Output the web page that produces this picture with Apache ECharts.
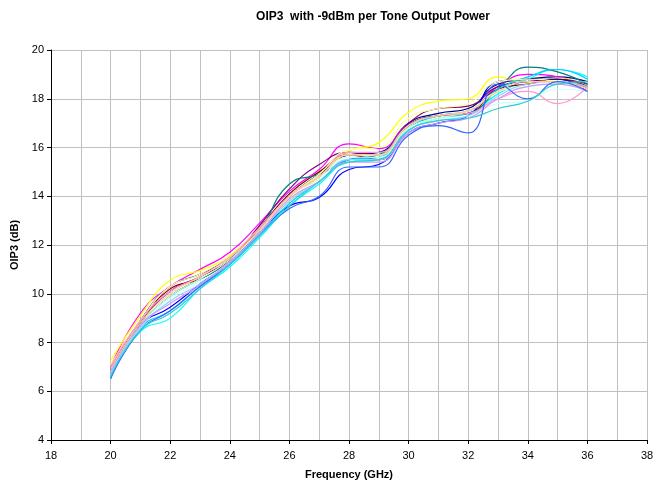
<!DOCTYPE html>
<html>
<head>
<meta charset="utf-8">
<script src="https://cdn.jsdelivr.net/npm/echarts@6/dist/echarts.min.js"></script>
<style>html,body{margin:0;padding:0;background:#fff}#c{width:658px;height:485px}</style>
</head>
<body>
<div id="c"></div>
<script>
const freqs = [20,21,22,23,24,25,26,27,28,29,30,31,32,33,34,35,36];
const xTicks = [18,20,22,24,26,28,30,32,34,36,38];
const yTicks = [4,6,8,10,12,14,16,18,20];
const colors = ['#000080','#FF00FF','#FFFF00','#00FFFF','#800080','#800000','#008080','#0000FF','#00CCFF','#CCFFFF','#CCFFCC','#FFFF99','#99CCFF','#FF99CC','#CC99FF','#FFCC99','#3366FF','#33CCCC'];

const s01 = [6.9, 8.9, 10.3, 10.8, 11.5, 12.7, 14.0, 14.9, 15.7, 15.8, 17.0, 17.4, 17.6, 18.6, 18.8, 18.9, 18.7];
const s02 = [7.0, 9.2, 10.3, 11.0, 11.7, 12.9, 14.2, 15.1, 16.15, 15.95, 16.95, 17.3, 17.5, 18.5, 19.0, 18.9, 18.4];
const s03 = [7.25, 9.1, 10.55, 10.95, 11.55, 12.6, 13.8, 14.8, 15.85, 16.2, 17.45, 17.9, 18.0, 18.9, 18.65, 18.85, 18.5];
const s04 = [6.55, 8.45, 9.0, 10.2, 11.1, 12.3, 13.6, 14.5, 15.4, 15.5, 16.7, 17.2, 17.4, 18.2, 18.8, 19.2, 18.9];
const s05 = [6.9, 8.8, 10.1, 10.7, 11.4, 12.8, 14.3, 15.3, 15.8, 15.7, 17.0, 17.6, 17.7, 18.5, 18.7, 18.8, 18.6];
const s06 = [6.9, 8.8, 10.2, 10.6, 11.4, 12.7, 14.1, 15.0, 15.7, 15.5, 16.9, 17.3, 17.4, 18.4, 18.6, 18.8, 18.5];
const s07 = [6.8, 8.7, 9.9, 10.6, 11.3, 12.6, 14.5, 14.9, 15.5, 15.7, 16.9, 17.3, 17.4, 18.4, 19.3, 19.1, 18.6];
const s08 = [6.7, 8.7, 9.45, 10.4, 11.3, 12.5, 13.6, 13.95, 15.1, 15.3, 16.6, 17.0, 17.3, 18.7, 18.8, 18.8, 18.3];
const s09 = [6.6, 8.6, 9.3, 10.3, 11.2, 12.4, 13.7, 14.6, 15.5, 15.6, 16.8, 17.3, 17.5, 18.4, 18.9, 19.2, 18.8];
const s10 = [6.7, 8.6, 9.8, 10.5, 11.3, 12.5, 13.9, 14.7, 15.6, 15.6, 16.8, 17.1, 17.3, 17.8, 17.9, 18.4, 18.3];
const s11 = [6.8, 8.7, 9.9, 10.6, 11.4, 12.6, 14.0, 14.8, 15.7, 15.7, 16.8, 17.2, 17.5, 18.3, 18.5, 18.6, 18.3];
const s12 = [7.1, 8.9, 10.3, 10.8, 11.6, 12.7, 14.0, 14.9, 15.9, 16.0, 17.2, 17.6, 17.8, 18.7, 18.8, 18.7, 18.4];
const s13 = [6.7, 8.6, 9.7, 10.4, 11.3, 12.5, 13.8, 14.6, 15.5, 15.5, 16.7, 17.1, 17.3, 18.1, 18.6, 18.7, 18.5];
const s14 = [7.0, 8.9, 10.1, 10.7, 11.5, 12.7, 14.0, 14.8, 15.8, 15.8, 16.9, 17.3, 17.4, 18.0, 18.3, 17.8, 18.5];
const s15 = [6.8, 8.7, 9.6, 10.35, 11.3, 12.5, 13.9, 14.6, 15.4, 15.4, 16.6, 17.0, 17.2, 18.0, 18.5, 18.6, 18.3];
const s16 = [6.9, 8.8, 10.0, 10.7, 11.5, 12.6, 14.0, 14.8, 15.7, 15.7, 16.9, 17.3, 17.5, 18.3, 18.7, 18.7, 18.4];
const s17 = [6.5, 8.5, 9.3, 10.3, 11.2, 12.4, 13.5, 14.0, 15.2, 15.2, 16.5, 16.9, 16.6, 18.6, 18.0, 18.7, 18.3];
const s18 = [6.6, 8.5, 9.2, 10.2, 11.2, 12.4, 13.6, 14.6, 15.4, 15.5, 16.7, 17.1, 17.2, 17.6, 17.9, 18.6, 18.7];
const allSeries = [s01,s02,s03,s04,s05,s06,s07,s08,s09,s10,s11,s12,s13,s14,s15,s16,s17,s18];

const chart = echarts.init(document.getElementById('c'), null, {renderer:'canvas'});
const font = 'Liberation Sans, Arial, sans-serif';
chart.setOption({
  animation: false,
  backgroundColor: '#fff',
  title: {
    text: 'OIP3  with -9dBm per Tone Output Power',
    left: 368, top: 6, textAlign: 'center',
    textStyle: {fontFamily: font, fontSize: 12, fontWeight: 'bold', color: '#000'}
  },
  grid: {left: 51, right: 11, top: 50, bottom: 41},
  xAxis: {
    type: 'value', min: xTicks[0], max: xTicks[xTicks.length-1], interval: 2,
    name: 'Frequency (GHz)', nameLocation: 'middle', nameGap: 29,
    nameTextStyle: {fontFamily: font, fontSize: 11, fontWeight: 'bold', color: '#000'},
    axisLine: {onZero: false, lineStyle: {color: '#000', width: 1}},
    axisTick: {show: true, inside: false, length: 4, lineStyle: {color: '#000'}},
    axisLabel: {fontFamily: font, fontSize: 11, color: '#000', margin: 10},
    splitLine: {show: true, lineStyle: {color: '#c0c0c0', width: 1}},
    minorTick: {show: false, splitNumber: 2},
    minorSplitLine: {show: true, lineStyle: {color: '#c0c0c0', width: 1}}
  },
  yAxis: {
    type: 'value', min: yTicks[0], max: yTicks[yTicks.length-1], interval: 2,
    name: 'OIP3 (dB)', nameLocation: 'middle', nameGap: 26,
    nameTextStyle: {fontFamily: font, fontSize: 11, fontWeight: 'bold', color: '#000'},
    axisLine: {show: true, onZero: false, lineStyle: {color: '#000', width: 1}},
    axisTick: {show: true, inside: false, length: 4, lineStyle: {color: '#000'}},
    axisLabel: {fontFamily: font, fontSize: 11, color: '#000', margin: 7},
    splitLine: {show: true, lineStyle: {color: '#c0c0c0', width: 1}}
  },
  series: allSeries.map((arr, i) => ({
    type: 'line',
    data: freqs.map((f, j) => [f, arr[j]]),
    smooth: 0.5,
    showSymbol: false,
    symbol: 'none',
    lineStyle: {color: colors[i], width: 1.2},
    itemStyle: {color: colors[i]},
    z: 2
  }))
});
</script>
</body>
</html>
